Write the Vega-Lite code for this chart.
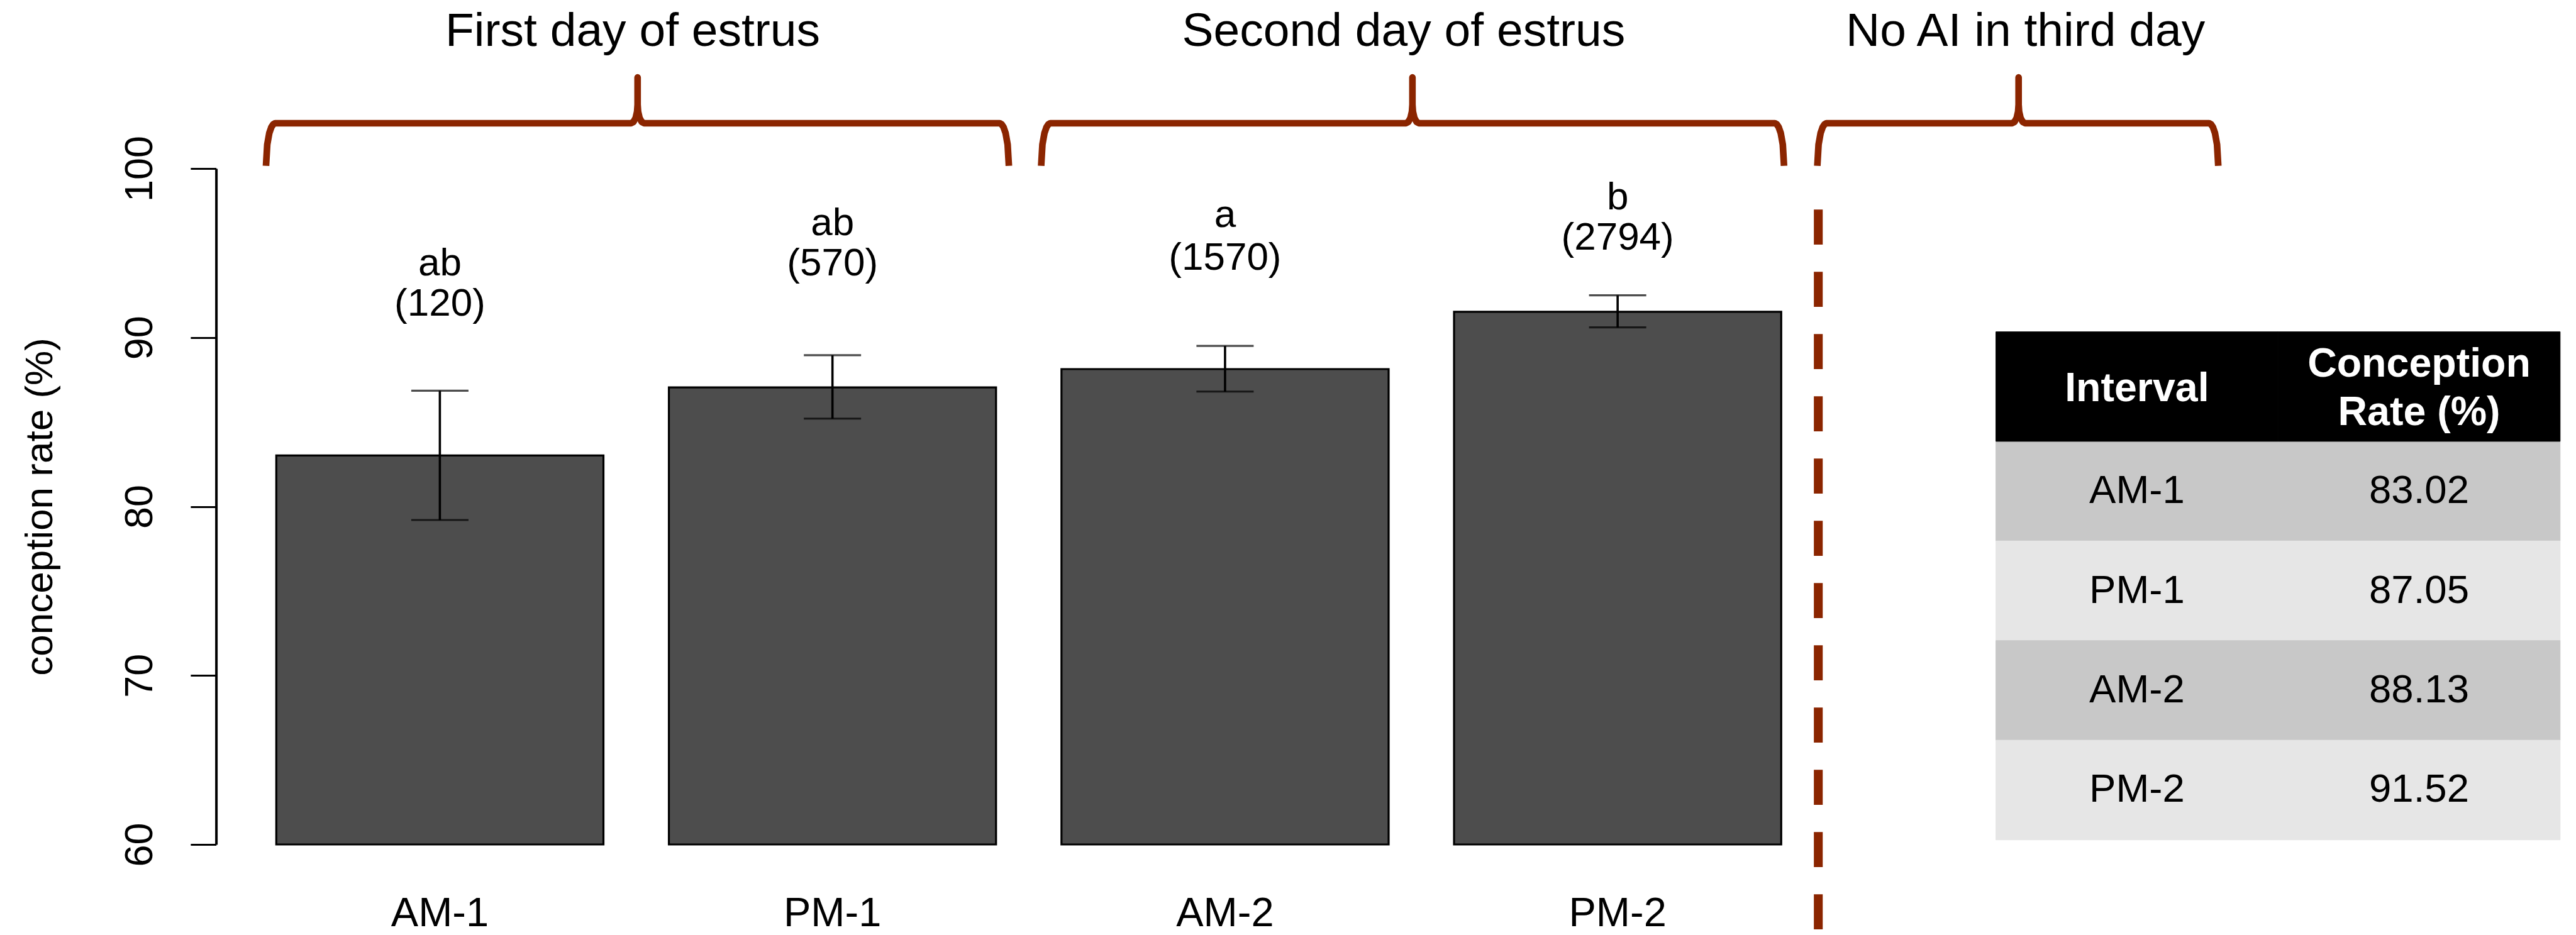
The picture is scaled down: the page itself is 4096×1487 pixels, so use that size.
{
  "$schema": "https://vega.github.io/schema/vega-lite/v6.json",
  "width": 3737,
  "height": 1075,
  "autosize": {"type": "none"},
  "padding": {"left": 343.6, "top": 268, "right": 15.4, "bottom": 144},
  "background": "white",
  "config": {"font": "Liberation Sans", "view": {"stroke": null}, "axis": {"grid": false}},
  "datasets": {
    "rates": [
      {"interval": "AM-1", "rate": 83.02, "lo": 79.2, "hi": 86.85, "letters": "ab", "nLabel": "(120)", "letterY": 93.67, "nY": 91.28},
      {"interval": "PM-1", "rate": 87.05, "lo": 85.2, "hi": 88.95, "letters": "ab", "nLabel": "(570)", "letterY": 96.07, "nY": 93.68},
      {"interval": "AM-2", "rate": 88.13, "lo": 86.8, "hi": 89.5, "letters": "a", "nLabel": "(1570)", "letterY": 96.53, "nY": 94.01},
      {"interval": "PM-2", "rate": 91.52, "lo": 90.6, "hi": 92.5, "letters": "b", "nLabel": "(2794)", "letterY": 97.58, "nY": 95.2}
    ],
    "groups": [
      {"period": "First day of estrus", "center": 1.293},
      {"period": "Second day of estrus", "center": 3.656},
      {"period": "No AI in third day", "center": 5.562}
    ],
    "header": [
      {"col": "interval", "label": "Interval"},
      {"col": "rate", "label": "Conception\nRate (%)"}
    ],
    "braces": [
      {"brace": 1, "i": 0, "x": 0.169, "y": 100.16},
      {"brace": 1, "i": 1, "x": 0.1728, "y": 101.42},
      {"brace": 1, "i": 2, "x": 0.179, "y": 102.09},
      {"brace": 1, "i": 3, "x": 0.1852, "y": 102.44},
      {"brace": 1, "i": 4, "x": 0.1912, "y": 102.62},
      {"brace": 1, "i": 5, "x": 0.197, "y": 102.68},
      {"brace": 1, "i": 6, "x": 1.288, "y": 102.68},
      {"brace": 1, "i": 7, "x": 1.2955, "y": 102.76},
      {"brace": 1, "i": 8, "x": 1.3021, "y": 103.0},
      {"brace": 1, "i": 9, "x": 1.3065, "y": 103.37},
      {"brace": 1, "i": 10, "x": 1.308, "y": 103.78},
      {"brace": 1, "i": 11, "x": 1.308, "y": 105.39},
      {"brace": 1, "i": 12, "x": 1.308, "y": 103.78},
      {"brace": 1, "i": 13, "x": 1.3095, "y": 103.37},
      {"brace": 1, "i": 14, "x": 1.3139, "y": 103.0},
      {"brace": 1, "i": 15, "x": 1.3205, "y": 102.76},
      {"brace": 1, "i": 16, "x": 1.328, "y": 102.68},
      {"brace": 1, "i": 17, "x": 2.418, "y": 102.68},
      {"brace": 1, "i": 18, "x": 2.4238, "y": 102.62},
      {"brace": 1, "i": 19, "x": 2.4298, "y": 102.44},
      {"brace": 1, "i": 20, "x": 2.436, "y": 102.09},
      {"brace": 1, "i": 21, "x": 2.4422, "y": 101.42},
      {"brace": 1, "i": 22, "x": 2.446, "y": 100.16},
      {"brace": 2, "i": 0, "x": 2.545, "y": 100.16},
      {"brace": 2, "i": 1, "x": 2.5488, "y": 101.42},
      {"brace": 2, "i": 2, "x": 2.555, "y": 102.09},
      {"brace": 2, "i": 3, "x": 2.5612, "y": 102.44},
      {"brace": 2, "i": 4, "x": 2.5672, "y": 102.62},
      {"brace": 2, "i": 5, "x": 2.573, "y": 102.68},
      {"brace": 2, "i": 6, "x": 3.663, "y": 102.68},
      {"brace": 2, "i": 7, "x": 3.6705, "y": 102.76},
      {"brace": 2, "i": 8, "x": 3.6771, "y": 103.0},
      {"brace": 2, "i": 9, "x": 3.6815, "y": 103.37},
      {"brace": 2, "i": 10, "x": 3.683, "y": 103.78},
      {"brace": 2, "i": 11, "x": 3.683, "y": 105.39},
      {"brace": 2, "i": 12, "x": 3.683, "y": 103.78},
      {"brace": 2, "i": 13, "x": 3.6845, "y": 103.37},
      {"brace": 2, "i": 14, "x": 3.6889, "y": 103.0},
      {"brace": 2, "i": 15, "x": 3.6955, "y": 102.76},
      {"brace": 2, "i": 16, "x": 3.703, "y": 102.68},
      {"brace": 2, "i": 17, "x": 4.794, "y": 102.68},
      {"brace": 2, "i": 18, "x": 4.7998, "y": 102.62},
      {"brace": 2, "i": 19, "x": 4.8058, "y": 102.44},
      {"brace": 2, "i": 20, "x": 4.812, "y": 102.09},
      {"brace": 2, "i": 21, "x": 4.8182, "y": 101.42},
      {"brace": 2, "i": 22, "x": 4.822, "y": 100.16},
      {"brace": 3, "i": 0, "x": 4.924, "y": 100.16},
      {"brace": 3, "i": 1, "x": 4.9278, "y": 101.42},
      {"brace": 3, "i": 2, "x": 4.934, "y": 102.09},
      {"brace": 3, "i": 3, "x": 4.9402, "y": 102.44},
      {"brace": 3, "i": 4, "x": 4.9462, "y": 102.62},
      {"brace": 3, "i": 5, "x": 4.952, "y": 102.68},
      {"brace": 3, "i": 6, "x": 5.521, "y": 102.68},
      {"brace": 3, "i": 7, "x": 5.5285, "y": 102.76},
      {"brace": 3, "i": 8, "x": 5.5351, "y": 103.0},
      {"brace": 3, "i": 9, "x": 5.5395, "y": 103.37},
      {"brace": 3, "i": 10, "x": 5.541, "y": 103.78},
      {"brace": 3, "i": 11, "x": 5.541, "y": 105.39},
      {"brace": 3, "i": 12, "x": 5.541, "y": 103.78},
      {"brace": 3, "i": 13, "x": 5.5425, "y": 103.37},
      {"brace": 3, "i": 14, "x": 5.5469, "y": 103.0},
      {"brace": 3, "i": 15, "x": 5.5535, "y": 102.76},
      {"brace": 3, "i": 16, "x": 5.561, "y": 102.68},
      {"brace": 3, "i": 17, "x": 6.125, "y": 102.68},
      {"brace": 3, "i": 18, "x": 6.1308, "y": 102.62},
      {"brace": 3, "i": 19, "x": 6.1368, "y": 102.44},
      {"brace": 3, "i": 20, "x": 6.143, "y": 102.09},
      {"brace": 3, "i": 21, "x": 6.1492, "y": 101.42},
      {"brace": 3, "i": 22, "x": 6.153, "y": 100.16}
    ]
  },
  "layer": [
    {
      "data": {"name": "rates"},
      "encoding": {
        "x": {
          "field": "interval", "type": "nominal", "title": null,
          "scale": {"domain": ["AM-1", "PM-1", "AM-2", "PM-2"], "range": [95.72, 2488.64], "paddingInner": 0.166667, "paddingOuter": 0, "round": false},
          "axis": {"labelFontSize": 65, "labelColor": "black", "labelPadding": 78, "ticks": false, "tickSize": 0, "domain": false, "labelAngle": 0, "title": null}
        }
      },
      "layer": [
        {
          "mark": {"type": "bar", "fill": "#4D4D4D", "stroke": "black", "strokeWidth": 3.2},
          "encoding": {
            "y": {
              "field": "rate", "type": "quantitative", "title": "conception rate (%)",
              "scale": {"domain": [60, 100], "zero": false, "nice": false},
              "axis": {"values": [60, 70, 80, 90, 100], "domainColor": "black", "domainWidth": 4, "tickColor": "black", "tickWidth": 3, "tickSize": 40.7,
                "labelFontSize": 63, "labelColor": "black", "labelAngle": -90, "labelAlign": "center", "labelBaseline": "middle", "labelPadding": 80,
                "labelFlush": false, "labelOverlap": false, "titleFontSize": 62, "titleFontWeight": "normal", "titleColor": "black",
                "titleX": -280.6, "titleY": 537.5, "titleAngle": -90, "titleAlign": "center", "titleBaseline": "middle", "grid": false}
            },
            "y2": {"datum": 60}
          }
        },
        {
          "mark": {"type": "rule", "color": "black", "strokeWidth": 3.6},
          "encoding": {"y": {"field": "lo", "type": "quantitative", "title": "conception rate (%)"}, "y2": {"field": "hi"}}
        },
        {
          "mark": {"type": "tick", "color": "black", "size": 91, "thickness": 3.2},
          "encoding": {"y": {"field": "lo", "type": "quantitative", "title": "conception rate (%)"}}
        },
        {
          "mark": {"type": "tick", "color": "black", "size": 91, "thickness": 3.2},
          "encoding": {"y": {"field": "hi", "type": "quantitative", "title": "conception rate (%)"}}
        },
        {
          "mark": {"type": "text", "fontSize": 62, "baseline": "alphabetic", "align": "center", "color": "black"},
          "encoding": {"y": {"field": "letterY", "type": "quantitative", "title": "conception rate (%)"}, "text": {"field": "letters"}}
        },
        {
          "mark": {"type": "text", "fontSize": 62, "baseline": "alphabetic", "align": "center", "color": "black"},
          "encoding": {"y": {"field": "nY", "type": "quantitative", "title": "conception rate (%)"}, "text": {"field": "nLabel"}}
        }
      ]
    },
    {
      "layer": [
        {
          "data": {"name": "braces"},
          "mark": {"type": "line", "color": "#8B2500", "strokeWidth": 10.6, "strokeJoin": "round", "strokeCap": "butt"},
          "encoding": {
            "x": {"field": "x", "type": "quantitative", "scale": {"domain": [0.016, 7.2198], "nice": false, "zero": false}, "axis": null},
            "y": {"field": "y", "type": "quantitative", "scale": {"domain": [60, 100], "nice": false, "zero": false}, "axis": null},
            "detail": {"field": "brace"},
            "order": {"field": "i", "type": "quantitative"}
          }
        },
        {
          "data": {"name": "groups"},
          "mark": {"type": "text", "fontSize": 75, "baseline": "alphabetic", "align": "center", "color": "black"},
          "encoding": {
            "x": {"field": "center", "type": "quantitative", "axis": null},
            "y": {"datum": 107.24, "type": "quantitative", "axis": null},
            "text": {"field": "period"}
          }
        },
        {
          "data": {"values": [{}]},
          "mark": {"type": "rule", "color": "#8B2500", "strokeWidth": 14.1, "strokeDash": [55.7, 43.3], "strokeCap": "butt"},
          "encoding": {
            "x": {"datum": 4.927, "type": "quantitative", "axis": null},
            "y": {"datum": 97.57, "type": "quantitative", "axis": null},
            "y2": {"datum": 54.67}
          }
        }
      ]
    },
    {
      "layer": [
        {
          "data": {"name": "rates"},
          "transform": [{"fold": ["interval", "rate"], "as": ["col", "val"]}],
          "mark": {"type": "rect", "strokeWidth": 1},
          "encoding": {
            "x": {"field": "col", "type": "nominal", "scale": {"domain": ["interval", "rate"], "range": [2830.0, 3727.2], "paddingInner": 0, "paddingOuter": 0, "round": false}, "axis": null},
            "y": {"field": "interval", "type": "nominal", "scale": {"domain": ["header", "AM-1", "PM-1", "AM-2", "PM-2"], "range": [275.45, 1067.7], "paddingInner": 0, "paddingOuter": 0, "round": false}, "axis": null},
            "fill": {"field": "interval", "type": "nominal", "scale": {"domain": ["AM-1", "PM-1", "AM-2", "PM-2"], "range": ["#C8C8C8", "#E6E6E6", "#C8C8C8", "#E6E6E6"]}, "legend": null},
            "stroke": {"field": "interval", "type": "nominal", "scale": {"domain": ["AM-1", "PM-1", "AM-2", "PM-2"], "range": ["#C8C8C8", "#E6E6E6", "#C8C8C8", "#E6E6E6"]}, "legend": null}
          }
        },
        {
          "data": {"name": "rates"},
          "transform": [{"fold": ["interval", "rate"], "as": ["col", "val"]}],
          "mark": {"type": "text", "fontSize": 63.5, "color": "black", "align": "center", "baseline": "middle"},
          "encoding": {
            "x": {"field": "col", "type": "nominal", "axis": null},
            "y": {"field": "interval", "type": "nominal", "axis": null},
            "text": {"field": "val", "type": "nominal"}
          }
        },
        {
          "data": {"name": "header"},
          "mark": {"type": "rect", "color": "black", "stroke": "black", "strokeWidth": 1, "height": 174.2, "yOffset": -7.9},
          "encoding": {
            "x": {"field": "col", "type": "nominal", "axis": null},
            "y": {"datum": "header", "type": "nominal", "axis": null}
          }
        },
        {
          "data": {"name": "header"},
          "transform": [{"filter": "datum.col === 'interval'"}],
          "mark": {"type": "text", "fontSize": 64.5, "fontWeight": "bold", "color": "white", "align": "center", "baseline": "middle", "yOffset": -4},
          "encoding": {
            "x": {"field": "col", "type": "nominal", "axis": null},
            "y": {"datum": "header", "type": "nominal", "axis": null},
            "text": {"field": "label"}
          }
        },
        {
          "data": {"name": "header"},
          "transform": [{"filter": "datum.col === 'rate'"}],
          "mark": {"type": "text", "fontSize": 64.5, "fontWeight": "bold", "color": "white", "align": "center", "baseline": "middle", "lineBreak": "\n", "lineHeight": 77.4, "yOffset": -42.7},
          "encoding": {
            "x": {"field": "col", "type": "nominal", "axis": null},
            "y": {"datum": "header", "type": "nominal", "axis": null},
            "text": {"field": "label"}
          }
        }
      ]
    }
  ],
  "resolve": {"scale": {"x": "independent", "y": "independent"}}
}
